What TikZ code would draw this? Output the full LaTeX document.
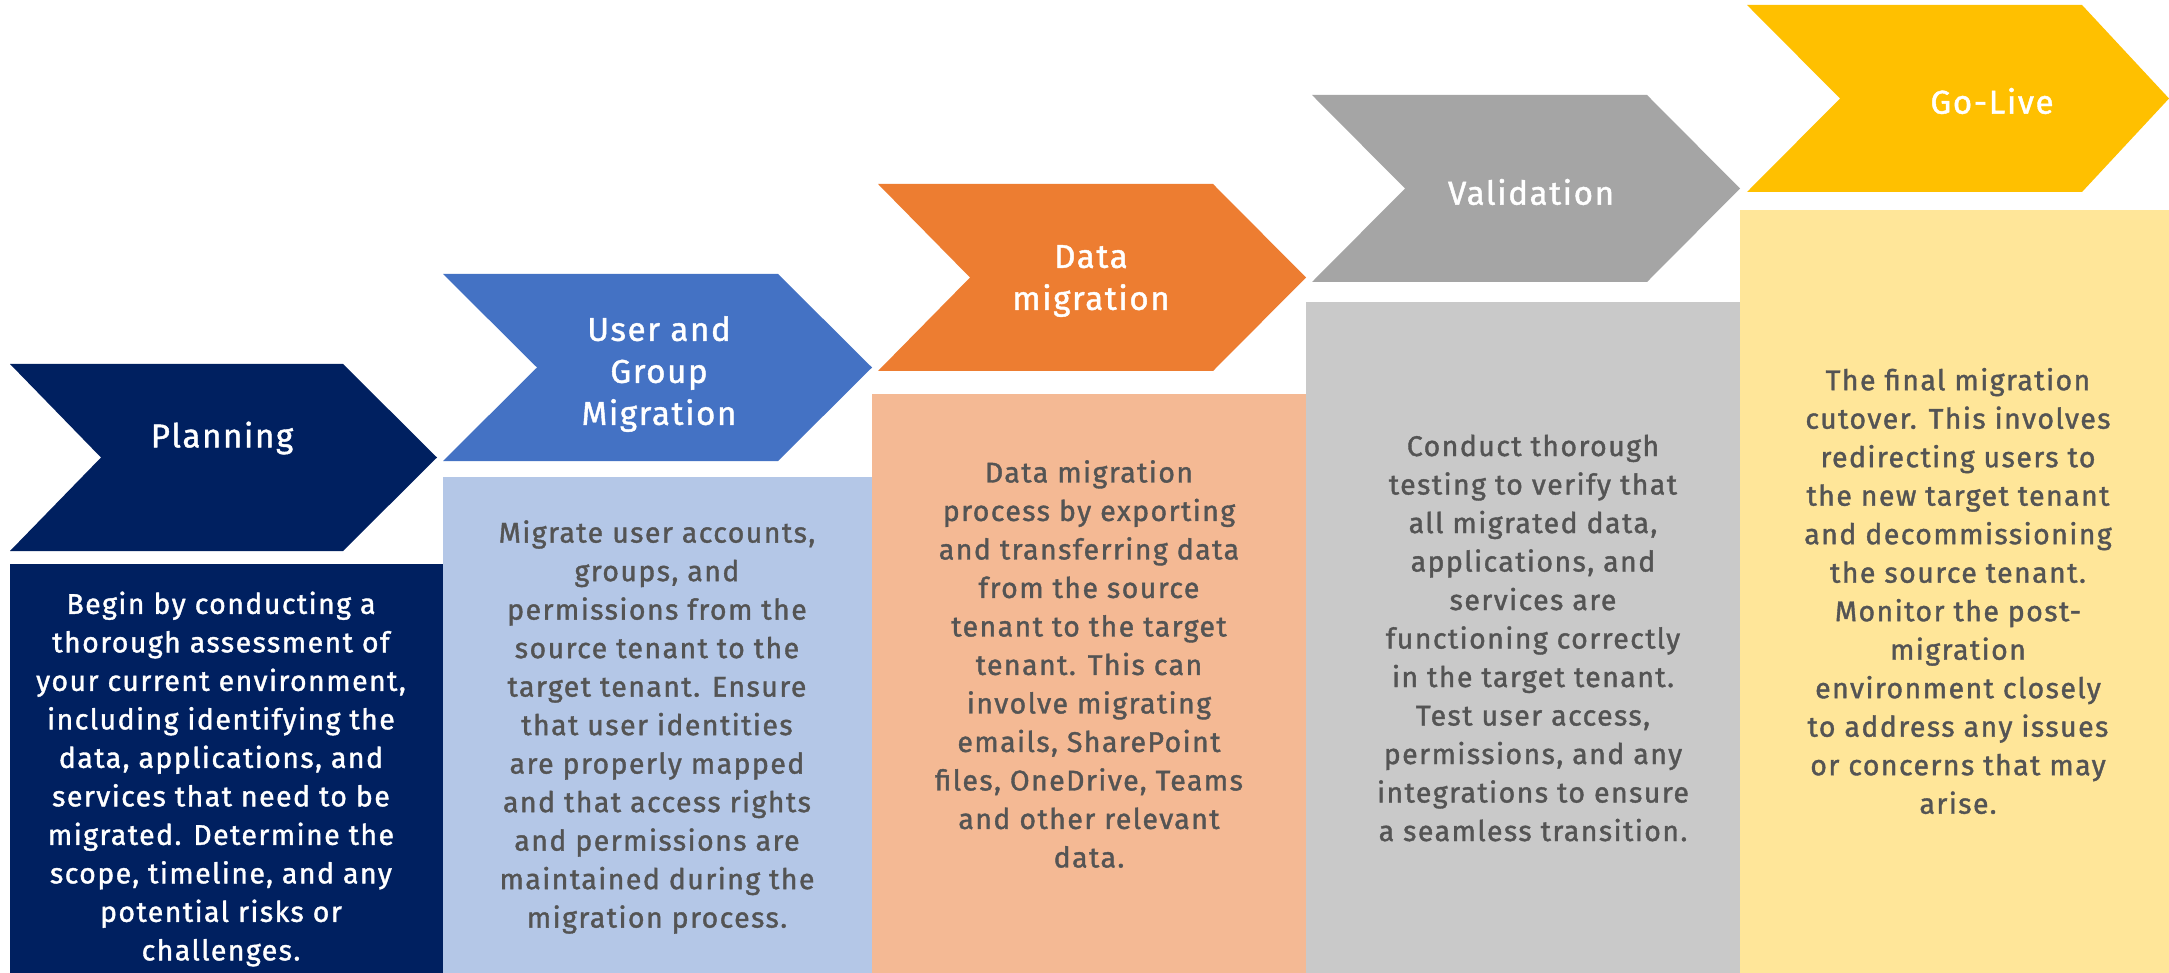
\documentclass[tikz,border=0pt]{standalone}
\usepackage{fontspec}
\setmainfont{Fira Sans}[LetterSpace=5,FakeBold=1.3]
\definecolor{navy}{HTML}{002060}
\definecolor{blu}{HTML}{4472C4}
\definecolor{orng}{HTML}{ED7D31}
\definecolor{gry}{HTML}{A5A5A5}
\definecolor{gold}{HTML}{FFC000}
\definecolor{lblu}{HTML}{B4C7E7}
\definecolor{lorng}{HTML}{F4B994}
\definecolor{lgry}{HTML}{C9C9C9}
\definecolor{lgold}{HTML}{FFE699}
\definecolor{txtgray}{HTML}{545454}
\tikzset{
  title/.style={text=white, align=center, font=\fontsize{33}{42}\selectfont},
  body/.style={align=center, font=\fontsize{28.5}{38.5}\selectfont, text=txtgray},
}
\begin{document}
\begin{tikzpicture}[x=1pt,y=-1pt]
\useasboundingbox[fill=white] (0,0) rectangle (2169,973);
% boxes
\fill[navy]  (10,564) rectangle (443,973);
\fill[lblu]  (443,477) rectangle (872,973);
\fill[lorng] (872,394) rectangle (1306,973);
\fill[lgry]  (1306,302) rectangle (1740,973);
\fill[lgold] (1740,210) rectangle (2169,973);
% chevrons
\fill[navy] (10,364) -- (343,364) -- (437,457.5) -- (343,551) -- (10,551) -- (101,457.5) -- cycle;
\fill[blu]  (443,274) -- (778,274) -- (872,367.5) -- (778,461) -- (443,461) -- (537,367.5) -- cycle;
\fill[orng] (878,184) -- (1213,184) -- (1306,277.5) -- (1213,371) -- (878,371) -- (970,277.5) -- cycle;
\fill[gry]  (1312,95) -- (1647,95) -- (1740,188.5) -- (1647,282) -- (1312,282) -- (1405,188.5) -- cycle;
\fill[gold] (1747,5) -- (2082,5) -- (2169,98.5) -- (2082,192) -- (1747,192) -- (1840,98.5) -- cycle;
% titles
\node[title] (t1) at (222,438) {Planning};
\node[title] (t2) at (659,374) {User and\\Group\\Migration};
\node[title] (t3) at (1091,281) {Data\\migration};
\node[title] (t4) at (1531,192) {Validation};
\node[title] (t5) at (1992,101) {Go-Live};
% bodies
\node[body, text=white] (b1) at (221,779) {Begin by conducting a\\thorough assessment of\\your current environment,\\including identifying the\\data, applications, and\\services that need to be\\migrated. Determine the\\scope, timeline, and any\\potential risks or\\challenges.};
\node[body] (b2) at (657,727) {Migrate user accounts,\\groups, and\\permissions from the\\source tenant to the\\target tenant. Ensure\\that user identities\\are properly mapped\\and that access rights\\and permissions are\\maintained during the\\migration process.};
\node[body] (b3) at (1089,664) {Data migration\\process by exporting\\and transferring data\\from the source\\tenant to the target\\tenant. This can\\involve migrating\\emails, SharePoint\\files, OneDrive, Teams\\and other relevant\\data.};
\node[body] (b4) at (1533,638) {Conduct thorough\\testing to verify that\\all migrated data,\\applications, and\\services are\\functioning correctly\\in the target tenant.\\Test user access,\\permissions, and any\\integrations to ensure\\a seamless transition.};
\node[body] (b5) at (1958,591) {The final migration\\cutover. This involves\\redirecting users to\\the new target tenant\\and decommissioning\\the source tenant.\\Monitor the post-\\migration\\environment closely\\to address any issues\\or concerns that may\\arise.};
\end{tikzpicture}
\end{document}
